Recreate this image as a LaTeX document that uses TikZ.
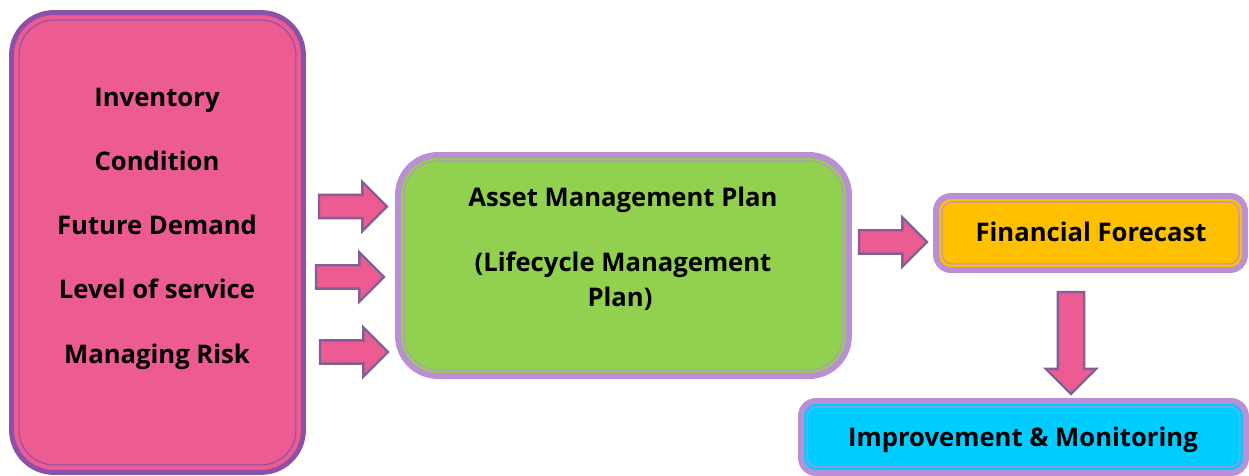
\documentclass[tikz,border=0pt]{standalone}
\usepackage{fontspec}
\setmainfont{Open Sans}
\usetikzlibrary{shapes.arrows,calc}
\definecolor{pinkfill}{RGB}{236,91,145}
\definecolor{darkpurple}{RGB}{139,81,168}
\definecolor{lightpurple}{RGB}{186,143,213}
\definecolor{leaf}{RGB}{146,208,80}
\definecolor{amber}{RGB}{255,192,0}
\definecolor{sky}{RGB}{0,204,255}
\definecolor{arrowedge}{RGB}{128,96,150}
\begin{document}
\begin{tikzpicture}[x=0.02cm,y=-0.02cm,
  txt/.style={anchor=base,font=\bfseries\fontsize{14.6}{17}\selectfont},
  panel/.style={outer sep=0pt,inner sep=0pt},
  fatarrow/.style={single arrow,draw=arrowedge,fill=pinkfill,line width=1.4pt,
    minimum height=1.36cm,single arrow head extend=0.26cm,anchor=tip,
    inner xsep=0pt,inner ysep=0.21cm,outer sep=0pt}]

\useasboundingbox (0,0) rectangle (1249,476);

% left box with the inputs
\node[panel,draw=darkpurple,line width=2.8pt,fill=pinkfill,rounded corners=0.85cm,
  minimum width=5.84cm,minimum height=9.2cm] (inputs) at (157.5,242.5) {};
\draw[darkpurple,line width=0.6pt,rounded corners=0.7cm]
  ($(inputs.north west)+(7.5,7.5)$) rectangle ($(inputs.south east)-(7.5,7.5)$);
\node[txt] (inv) at (157,107) {Inventory};
\node[txt] (cond) at (157,171) {Condition};
\node[txt] (dem) at (157,235) {Future Demand};
\node[txt] (los) at (157,299) {Level of service};
\node[txt] (risk) at (157,364) {Managing Risk};

% the plan
\node[panel,draw=lightpurple,line width=3.4pt,fill=leaf,rounded corners=0.8cm,
  minimum width=9.02cm,minimum height=4.42cm] (amp) at (623.5,265.5) {};
\draw[lightpurple,line width=0.6pt,rounded corners=0.68cm]
  ($(amp.north west)+(6,6)$) rectangle ($(amp.south east)-(6,6)$);
\node[txt] (amptitle) at (623,207) {Asset Management Plan};
\node[txt] (lmp) at (623,272) {(Lifecycle Management};
\node[txt] (lmpend) at (620,307) {Plan)};

% forecast
\node[panel,draw=lightpurple,line width=3.4pt,fill=amber,rounded corners=0.3cm,
  minimum width=6.18cm,minimum height=1.48cm] (fin) at (1090.5,233) {};
\draw[lightpurple,line width=0.6pt,rounded corners=0.2cm]
  ($(fin.north west)+(6,6)$) rectangle ($(fin.south east)-(6,6)$);
\node[txt] (fintxt) at (1091,242) {Financial Forecast};

% monitoring
\node[panel,draw=lightpurple,line width=3.4pt,fill=sky,rounded corners=0.3cm,
  minimum width=8.9cm,minimum height=1.44cm] (imp) at (1023.5,437) {};
\draw[lightpurple,line width=0.6pt,rounded corners=0.2cm]
  ($(imp.north west)+(6,6)$) rectangle ($(imp.south east)-(6,6)$);
\node[txt] (imptxt) at (1023,447) {Improvement \& Monitoring};

% block arrows
\node[fatarrow] (a1) at (387,206.5) {};
\node[fatarrow] (a2) at (384,277) {};
\node[fatarrow] (a3) at (388,352) {};
\node[fatarrow] (a4) at (927,242) {};
\node[fatarrow,shape border rotate=270,minimum height=2.04cm,inner sep=0.24cm,
  single arrow head extend=0.24cm] (a5) at (1071,394) {};
\end{tikzpicture}
\end{document}
